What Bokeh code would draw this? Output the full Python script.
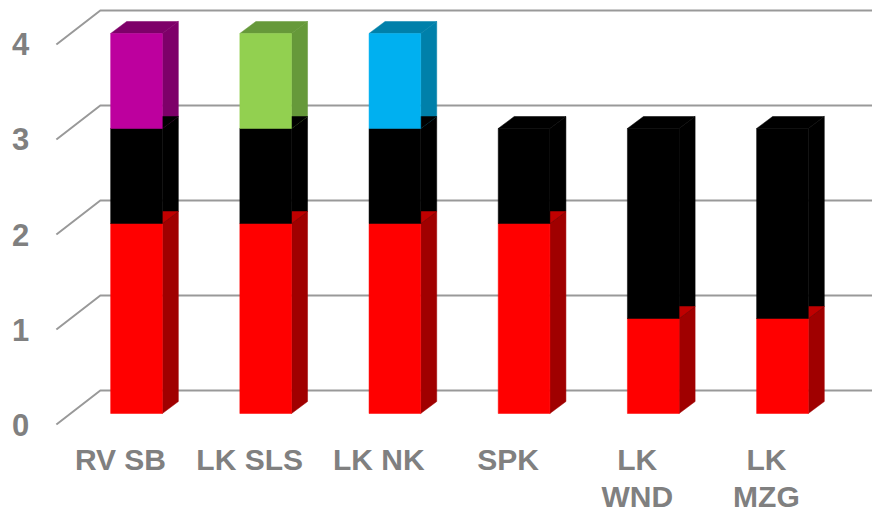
from bokeh.plotting import figure
from bokeh.models import Range1d
from bokeh.core.properties import value
from bokeh.embed import file_html
from bokeh.resources import INLINE

categories = ["RV SB", "LK SLS", "LK NK", "SPK", "LK\nWND", "LK\nMZG"]
red_vals = [2, 2, 2, 2, 1, 1]
black_vals = [1, 1, 1, 1, 2, 2]
top_vals = [1, 1, 1, 0, 0, 0]
top_front = ["#BD009E", "#92D050", "#00B0F0", "#000000", "#000000", "#000000"]
top_dark = ["#7E0069", "#66993A", "#0080AA", "#000000", "#000000", "#000000"]
yticks = [0, 1, 2, 3, 4]

# layout constants (data units)
BAR_W = 0.40
DEPTH_DX, DEPTH_DY = 0.124, 0.126        # bar depth
WALL_DX, WALL_DY = 0.232, 0.242          # back wall offset from bar front plane
FLOOR_DX, FLOOR_DY = -0.108, -0.116      # floor front offset from bar front plane
LEFT_X = -0.62
X0, X1 = -1.0526, 5.697
Y0, Y1 = -1.042, 4.347

p = figure(width=872, height=512, output_backend="svg", toolbar_location=None,
           x_range=Range1d(X0, X1), y_range=Range1d(Y0, Y1),
           x_axis_type=None, y_axis_type=None, min_border=0)
p.grid.visible = False
p.outline_line_color = None

# gridlines with perspective
gx, gy = [], []
for v in yticks:
    gx.append([LEFT_X, LEFT_X + (WALL_DX - FLOOR_DX), X1])
    gy.append([v + FLOOR_DY, v + WALL_DY, v + WALL_DY])
p.multi_line(gx, gy, line_color="#999999", line_width=2)

# y labels
p.text(x=[LEFT_X - 0.21] * len(yticks), y=[v + FLOOR_DY for v in yticks],
       text=[str(v) for v in yticks], text_align="right", text_baseline="middle",
       text_font=value("Liberation Sans"), text_font_style="bold",
       text_font_size="31px", text_color="#808080")

# bars
segments = [
    (red_vals, ["#FF0000"] * 6, ["#A00000"] * 6, ["#C00000"] * 6),
    (black_vals, ["#000000"] * 6, ["#000000"] * 6, ["#000000"] * 6),
    (top_vals, top_front, top_dark, top_dark),
]
base = [0.0] * len(categories)
fl, fr, fb, ft, fc = [], [], [], [], []
sx, sy, sc = [], [], []
tx, ty, tc = [], [], []
for vals, cf, cs, ctop in segments:
    for i, v in enumerate(vals):
        if v <= 0:
            continue
        l, r = i - BAR_W / 2, i + BAR_W / 2
        b, t = base[i], base[i] + v
        fl.append(l); fr.append(r); fb.append(b); ft.append(t); fc.append(cf[i])
        sx.append([r, r + DEPTH_DX, r + DEPTH_DX, r])
        sy.append([b, b + DEPTH_DY, t + DEPTH_DY, t])
        sc.append(cs[i])
        tx.append([l, l + DEPTH_DX, r + DEPTH_DX, r])
        ty.append([t, t + DEPTH_DY, t + DEPTH_DY, t])
        tc.append(ctop[i])
        base[i] = t

p.patches(sx, sy, fill_color=sc, line_color=sc, line_width=0.5)
p.patches(tx, ty, fill_color=tc, line_color=tc, line_width=0.5)
p.quad(left=fl, right=fr, bottom=fb, top=ft, fill_color=fc, line_color=fc, line_width=0.5)

# category labels
p.text(x=[i - 0.124 for i in range(len(categories))], y=[-0.31] * len(categories),
       text=categories, text_align="center", text_baseline="top",
       text_font=value("Liberation Sans"), text_font_style="bold",
       text_font_size="30px", text_color="#808080", text_line_height=1.13)

open("out.html", "w").write(file_html(p, INLINE))
